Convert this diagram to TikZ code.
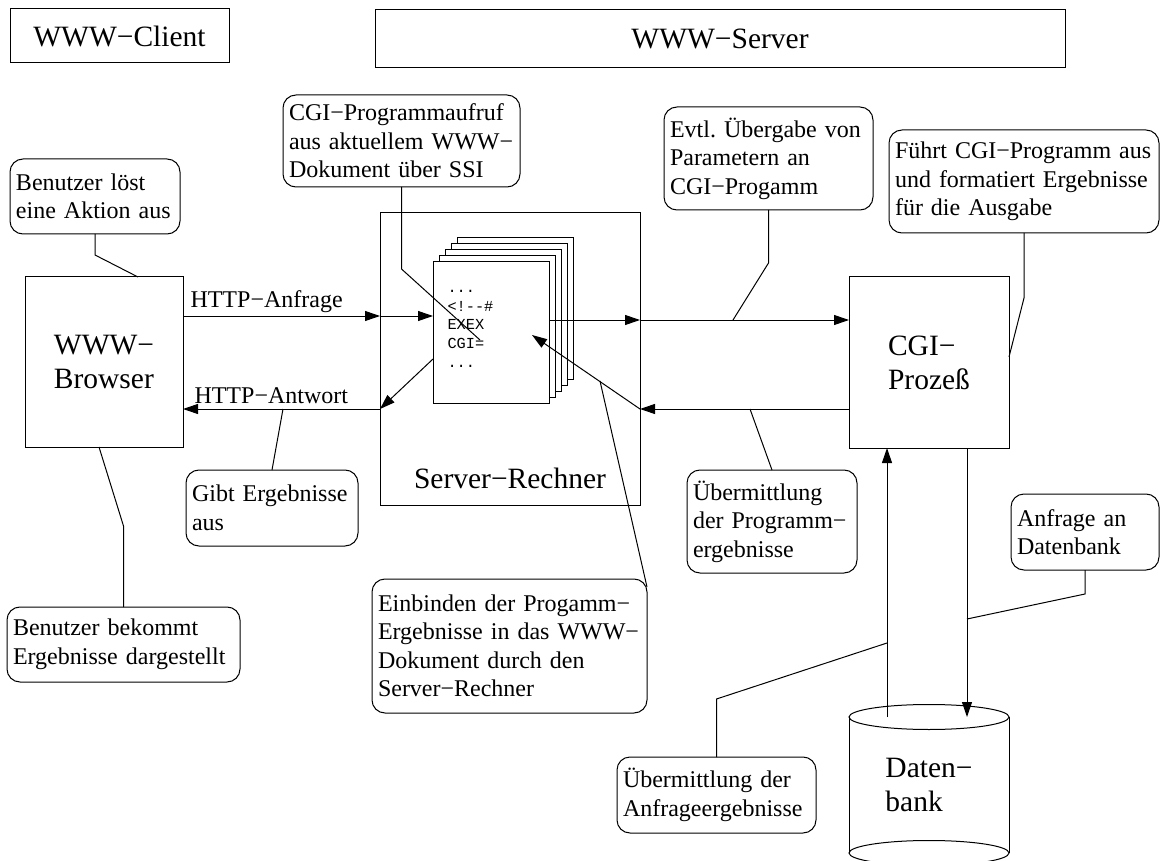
\documentclass[tikz,border=0pt]{standalone}
\usepackage{fontspec}
\setmainfont{Liberation Serif}
\setmonofont{Liberation Mono}
\usetikzlibrary{arrows.meta}
\frenchspacing

\begin{document}
\begin{tikzpicture}[x=1pt, y=-1pt, line width=1pt,
  big/.style={font=\fontsize{29.5}{34}\selectfont},
  small/.style={font=\fontsize{24}{28.5}\selectfont},
  plainbox/.style={draw, inner sep=0pt, outer sep=0pt},
  note/.style={draw, rounded corners=13pt, inner xsep=6pt, inner ysep=0pt,
               outer sep=0pt, align=left, small},
  page/.style={draw, fill=white, minimum width=116pt, minimum height=141pt,
               inner sep=0pt, outer sep=0pt},
  code/.style={font=\fontsize{15.3}{18.5}\selectfont\ttfamily, inner sep=0pt,
               anchor=base west},
  arr/.style={-{Triangle[length=15pt,width=10pt]}},
  lbl/.style={small, inner sep=0pt, anchor=base west},
]
\useasboundingbox (0,0) rectangle (1160,861);

% headings
\node[plainbox, big, minimum width=219pt, minimum height=54pt] (client) at (119.5,36) {WWW−Client};
\node[plainbox, big, minimum width=690pt, minimum height=58pt] (server) at (720,39) {WWW−Server};

% main blocks
\node[plainbox, big, align=left, minimum width=158pt, minimum height=170pt] (browser) at (104,362) {WWW−\\Browser};
\node[plainbox, minimum width=260pt, minimum height=292pt] (srv) at (510,359) {};
\node[big, anchor=base, inner sep=0pt] (srvlbl) at (510,488) {Server−Rechner};
\node[plainbox, big, align=left, minimum width=160pt, minimum height=171pt] (cgi) at (929,362.5) {CGI−\\Prozeß};

% stack of documents
\foreach \k in {4,3,2,1}
  \node[page] (p\k) at (491+6*\k, 332.5-6*\k) {};
\node[page] (doc) at (491,332.5) {};
\node[code] (d1) at (447,293) {...};
\node[code] (d2) at (447,311.5) {<!-{}-\#};
\node[code] (d3) at (447,330) {EXEX};
\node[code] (d4) at (447,348.5) {CGI=};
\node[code] (d5) at (447,367) {...};

% database
\coordinate (dbtop) at (929,717);
\coordinate (dbbot) at (929,853);
\draw (dbtop) ellipse [x radius=80pt, y radius=12.5pt];
\draw ([xshift=-80pt]dbtop) -- ([xshift=-80pt]dbbot)
      ([xshift=80pt]dbtop) -- ([xshift=80pt]dbbot);
\draw (dbbot) ellipse [x radius=80pt, y radius=12.5pt];
\node[big, align=left, inner sep=0pt] (db) at (929,785) {Daten−\\bank};

% remarks
\node[note, text width=158pt, minimum width=170pt, minimum height=75pt] (n1) at (95,196.5) {Benutzer löst\\eine Aktion aus};
\node[note, text width=225pt, minimum width=237pt, minimum height=92pt] (n2) at (401.5,141) {CGI−Programmaufruf\\aus aktuellem WWW−\\Dokument über SSI};
\node[note, text width=197pt, minimum width=209pt, minimum height=103pt] (n3) at (768.5,158.5) {Evtl. Übergabe von\\Parametern an\\CGI−Progamm};
\node[note, text width=258pt, minimum width=270pt, minimum height=103pt] (n4) at (1024,181.5) {Führt CGI−Programm aus\\und formatiert Ergebnisse\\für die Ausgabe};
\node[note, text width=160pt, minimum width=172pt, minimum height=76pt] (n5) at (272,508) {Gibt Ergebnisse\\aus};
\node[note, text width=221pt, minimum width=233pt, minimum height=75pt] (n6) at (123.5,644.5) {Benutzer bekommt\\Ergebnisse dargestellt};
\node[note, text width=263pt, minimum width=275pt, minimum height=134pt] (n7) at (509.5,646) {Einbinden der Progamm−\\Ergebnisse in das WWW−\\Dokument durch den\\Server−Rechner};
\node[note, text width=158pt, minimum width=170pt, minimum height=103pt] (n8) at (772,521.5) {Übermittlung\\der Programm−\\ergebnisse};
\node[note, text width=136pt, minimum width=148pt, minimum height=76pt] (n9) at (1085,532) {Anfrage an\\Datenbank};
\node[note, text width=187pt, minimum width=199pt, minimum height=76pt] (n10) at (716.5,795) {Übermittlung der\\Anfrageergebnisse};

% HTTP traffic
\node[lbl] (req) at (190,308) {HTTP−Anfrage};
\node[lbl] (resp) at (194,403) {HTTP−Antwort};
\draw[arr] (browser.east |- 0,316) -- (srv.west |- 0,316);
\draw[arr] (srv.west |- 0,316) -- (doc.west |- 0,316);
\draw[arr] (srv.west |- 0,409) -- (browser.east |- 0,409);
\draw[arr] (doc.west |- 0,359) -- (srv.west |- 0,409);

% server <-> CGI process
\coordinate (ins) at (532,335);
\draw[arr] (doc.east |- 0,320) -- (srv.east |- 0,320);
\draw[arr] (srv.east |- 0,320) -- (cgi.west |- 0,320);
\draw[arr] (cgi.west |- 0,409) -- (srv.east |- 0,409);
\draw[arr] (srv.east |- 0,409) -- (ins);

% CGI process <-> database
\draw[arr] (dbtop -| 887,0) -- (cgi.south -| 887,0);
\draw[arr] (cgi.south -| 967,0) -- (dbtop -| 967,0);

% leader lines of the remarks
\coordinate (k1) at (95,255);
\coordinate (k2) at (401.5,269);
\coordinate (t2) at (480,340);
\coordinate (k3) at (768.5,263);
\coordinate (t3) at (733,320);
\coordinate (k4) at (1024,298);
\coordinate (t5) at (283,409);
\coordinate (k6) at (123.5,526);
\coordinate (t7) at (600,381);
\coordinate (t8) at (750,409);
\coordinate (k9) at (1085,594);
\coordinate (t9) at (967,619);
\coordinate (k10) at (716.5,699);
\coordinate (t10) at (887,643);

\draw (n1.south) -- (k1) -- ([xshift=34pt]browser.north);
\draw (n2.south) -- (k2) -- (t2);
\draw (n3.south) -- (k3) -- (t3);
\draw (n4.south) -- (k4) -- (cgi.east |- 0,357);
\draw (n5.north) -- (t5);
\draw (n6.north) -- (k6) -- ([xshift=-5pt]browser.south);
\draw ([yshift=-8pt]n7.north east) -- (t7);
\draw (n8.north) -- (t8);
\draw (n9.south) -- (k9) -- (t9);
\draw (n10.north) -- (k10) -- (t10);
\end{tikzpicture}
\end{document}
